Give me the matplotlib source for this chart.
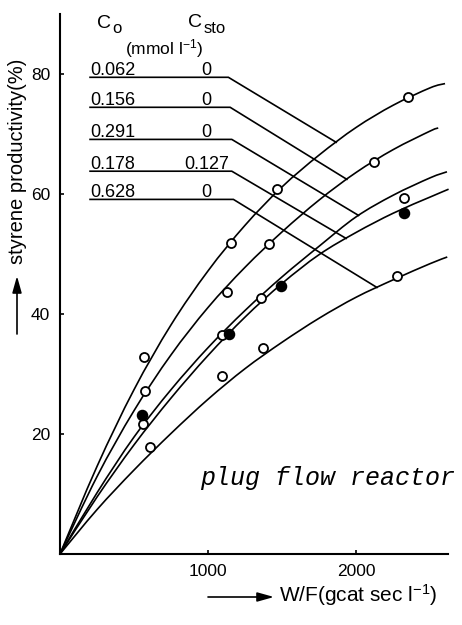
import numpy as np
import matplotlib
matplotlib.use("Agg")
import matplotlib.pyplot as plt
from matplotlib.path import Path
from matplotlib.patches import PathPatch

plt.rcParams["font.family"] = ["Liberation Sans", "DejaVu Sans"]
plt.rcParams["mathtext.default"] = "regular"

# Fitted curves: W/F (gcat sec l^-1) vs styrene productivity (%)
wf_062 = [0, 250, 500, 750, 1000, 1250, 1500, 1750, 2000, 2250, 2500, 2600]
fit_062 = [0, 14.6, 27.4, 38.2, 47.2, 54.8, 61.2, 66.5, 71.1, 74.8, 77.7, 78.4]
wf_156 = [0, 250, 500, 750, 1000, 1250, 1500, 1750, 2000, 2250, 2500, 2554]
fit_156 = [0, 12.9, 23.9, 33.2, 41.1, 47.8, 53.7, 59.0, 63.6, 67.4, 70.5, 71.0]
wf_291 = [0, 250, 500, 750, 1000, 1250, 1500, 1750, 2000, 2250, 2500, 2613]
fit_291 = [0, 10.2, 19.5, 27.4, 34.4, 40.6, 46.2, 51.3, 56.2, 59.8, 62.7, 63.7]
wf_178 = [0, 250, 500, 750, 1000, 1250, 1500, 1750, 2000, 2250, 2500, 2624]
fit_178 = [0, 9.5, 18.2, 26.0, 33.1, 39.5, 45.1, 49.9, 53.6, 56.8, 59.5, 60.8]
wf_628 = [0, 250, 500, 750, 1000, 1250, 1500, 1750, 2000, 2250, 2500, 2615]
fit_628 = [0, 7.4, 14.0, 20.1, 25.8, 30.9, 35.3, 39.3, 42.8, 45.7, 48.4, 49.5]

# Measured points
pts_wf_062 = [568, 1153, 1464, 2349]
pts_062 = [32.8, 51.8, 60.8, 76.1]
pts_wf_156 = [574, 1126, 1412, 2122]
pts_156 = [27.2, 43.6, 51.7, 65.4]
pts_wf_291 = [561, 1092, 1356, 2320]
pts_291 = [21.7, 36.5, 42.6, 59.4]
pts_wf_178 = [552, 1144, 1493, 2324]
pts_178 = [23.2, 36.7, 44.6, 56.9]
pts_wf_628 = [608, 1092, 1372, 2275]
pts_628 = [17.8, 29.7, 34.3, 46.4]

c0_labels = ["0.062", "0.156", "0.291", "0.178", "0.628"]
csto_labels = ["0", "0", "0", "0.127", "0"]

x_ticks = [1000, 2000]
y_ticks = [20, 40, 60, 80]

curves = [
    (wf_062, fit_062, pts_wf_062, pts_062, False),
    (wf_156, fit_156, pts_wf_156, pts_156, False),
    (wf_291, fit_291, pts_wf_291, pts_291, False),
    (wf_178, fit_178, pts_wf_178, pts_178, True),
    (wf_628, fit_628, pts_wf_628, pts_628, False),
]


def smooth_path(xs, ys):
    """Cubic Bezier path (Catmull-Rom) through the given knots."""
    p = np.column_stack([xs, ys]).astype(float)
    ext = np.vstack([p[0], p, p[-1]])
    verts = [p[0]]
    codes = [Path.MOVETO]
    for i in range(len(p) - 1):
        a, b, c, d = ext[i], ext[i + 1], ext[i + 2], ext[i + 3]
        verts += [b + (c - a) / 6.0, c - (d - b) / 6.0, c]
        codes += [Path.CURVE4] * 3
    return Path(verts, codes)


W, H = 462, 625
fig = plt.figure(figsize=(W / 100, H / 100), dpi=100)
ax = fig.add_axes([60 / W, 1 - 554 / H, 388 / W, 540 / H])
ax.set_xlim(0, 2620)
ax.set_ylim(0, 90)

for s in ("top", "right"):
    ax.spines[s].set_visible(False)
for s in ("left", "bottom"):
    ax.spines[s].set_linewidth(1.5)

ax.set_xticks(x_ticks)
ax.set_yticks(y_ticks)
ax.tick_params(direction="in", length=3, width=1.2, labelsize=12.5, pad=7)

lw = 1.2
for wf, fit, pwf, pv, filled in curves:
    ax.add_patch(PathPatch(smooth_path(wf, fit), facecolor="none",
                           edgecolor="black", lw=lw, clip_on=False, zorder=2))
    ax.plot(pwf, pv, linestyle="none", marker="o", ms=7.0 if filled else 6.5,
            mfc="black" if filled else "white", mec="black", mew=1.3,
            clip_on=False, zorder=4)

# Table of inlet concentrations with leader lines to each curve
row_y = [79.45, 74.45, 69.1, 63.8, 59.1]
bend_x = [1137, 1149, 1160, 1160, 1171]
end_x = [1865, 1937, 2016, 1932, 2140]
line_start = 203
for (wf, fit, *_), yr, bx, ex, c0, cs in zip(curves, row_y, bend_x, end_x,
                                              c0_labels, csto_labels):
    ey = float(np.interp(ex, wf, fit))
    ax.plot([line_start, bx, ex], [yr, yr, ey], color="black", lw=lw,
            zorder=3, solid_joinstyle="miter")
    ax.text(line_start, yr + 0.35, c0, ha="left", va="baseline", fontsize=13)
    ax.text(990, yr + 0.35, cs, ha="center", va="baseline", fontsize=13)

# Column headings
ax.text(250, 87.7, "C", ha="left", va="baseline", fontsize=14)
ax.text(352, 86.9, "o", ha="left", va="baseline", fontsize=12)
ax.text(865, 87.9, "C", ha="left", va="baseline", fontsize=14)
ax.text(967, 86.8, "sto", ha="left", va="baseline", fontsize=12)
ax.text(700, 83.2, r"(mmol l$^{-1}$)", ha="center", va="baseline", fontsize=12.5)

ax.text(946, 11.5, "plug flow reactor", family=["Liberation Mono", "DejaVu Sans Mono"],
        style="italic", fontsize=18, ha="left", va="baseline")

# Axis titles with direction arrows
fig.text(18 / W, 1 - 264 / H, "styrene productivity(%)", rotation=90,
         ha="center", va="bottom", fontsize=14.5)
ax.annotate("", xy=(17 / W, 1 - 276 / H), xytext=(17 / W, 1 - 334 / H),
            xycoords="figure fraction", textcoords="figure fraction",
            arrowprops=dict(arrowstyle="-|>,head_length=1.0,head_width=0.28",
                            color="black", lw=1.2, shrinkA=0, shrinkB=0))
ax.annotate("", xy=(274 / W, 1 - 597 / H), xytext=(208 / W, 1 - 597 / H),
            xycoords="figure fraction", textcoords="figure fraction",
            arrowprops=dict(arrowstyle="-|>,head_length=1.0,head_width=0.28",
                            color="black", lw=1.2, shrinkA=0, shrinkB=0))
fig.text(279 / W, 1 - 602 / H, r"W/F(gcat sec l$^{-1}$)", ha="left",
         va="baseline", fontsize=15)

fig.savefig("out.png", dpi=100)
